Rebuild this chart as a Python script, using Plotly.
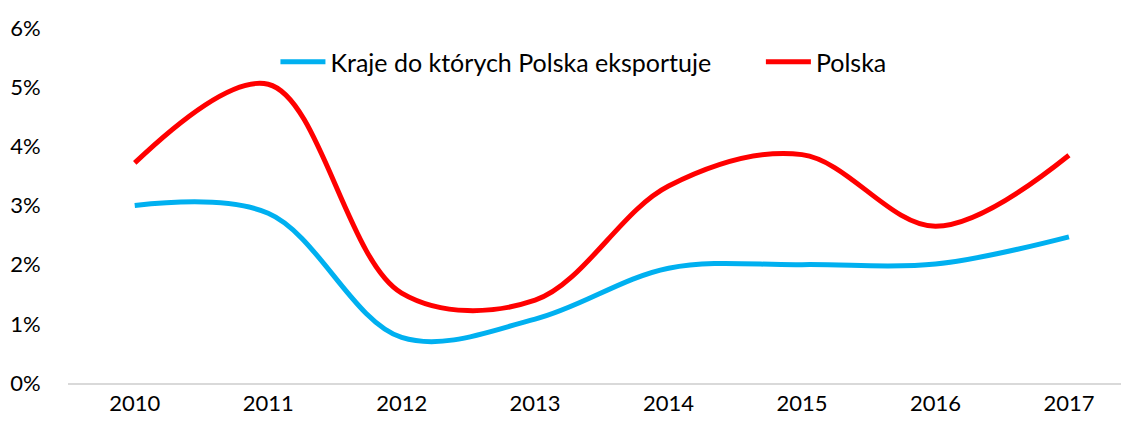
import plotly.graph_objects as go

years = ["2010", "2011", "2012", "2013", "2014", "2015", "2016", "2017"]
export_partners = [3.0, 2.87, 0.77, 1.08, 1.94, 2.0, 2.01, 2.47]
poland = [3.72, 5.05, 1.52, 1.40, 3.33, 3.86, 2.65, 3.85]
y_ticks = [0, 1, 2, 3, 4, 5, 6]
y_tick_labels = [f"{v}%" for v in y_ticks]

FONT = "Lato, 'Open Sans', sans-serif"
PAD = "\u00a0" * 7  # extra room between the two legend entries

fig = go.Figure()

fig.add_trace(
    go.Scatter(
        x=years,
        y=export_partners,
        mode="lines",
        name="Kraje do których Polska eksportuje" + PAD,
        line=dict(color="#00B0F0", width=5, shape="spline", smoothing=1),
    )
)
fig.add_trace(
    go.Scatter(
        x=years,
        y=poland,
        mode="lines",
        name="Polska",
        line=dict(color="#FF0000", width=5, shape="spline", smoothing=1),
    )
)

fig.update_layout(
    width=1121,
    height=428,
    margin=dict(l=68, r=0, t=28, b=45, autoexpand=False),
    plot_bgcolor="white",
    paper_bgcolor="white",
    font=dict(family=FONT, size=22, color="#000000"),
    showlegend=True,
    legend=dict(
        orientation="h",
        x=0.197,
        xanchor="left",
        y=0.904,
        yanchor="middle",
        itemwidth=45,
        font=dict(family=FONT, size=25, color="#000000"),
        bgcolor="rgba(0,0,0,0)",
    ),
    xaxis=dict(
        type="category",
        range=[-0.5, 7.39],
        showgrid=False,
        showline=True,
        linecolor="#D9D9D9",
        linewidth=2,
        ticks="",
        tickfont=dict(family=FONT, size=22),
    ),
    yaxis=dict(
        range=[0, 6],
        tickvals=y_ticks,
        ticktext=y_tick_labels,
        showgrid=False,
        zeroline=False,
        showline=False,
        ticks="outside",
        ticklen=22,
        tickcolor="rgba(0,0,0,0)",
        tickfont=dict(family=FONT, size=22),
    ),
)

# drop the browser's default body margin so the figure sits at (0, 0)
fig.write_html(
    "out.html",
    config={"displayModeBar": False},
    post_script="document.body.style.margin='0';",
)
